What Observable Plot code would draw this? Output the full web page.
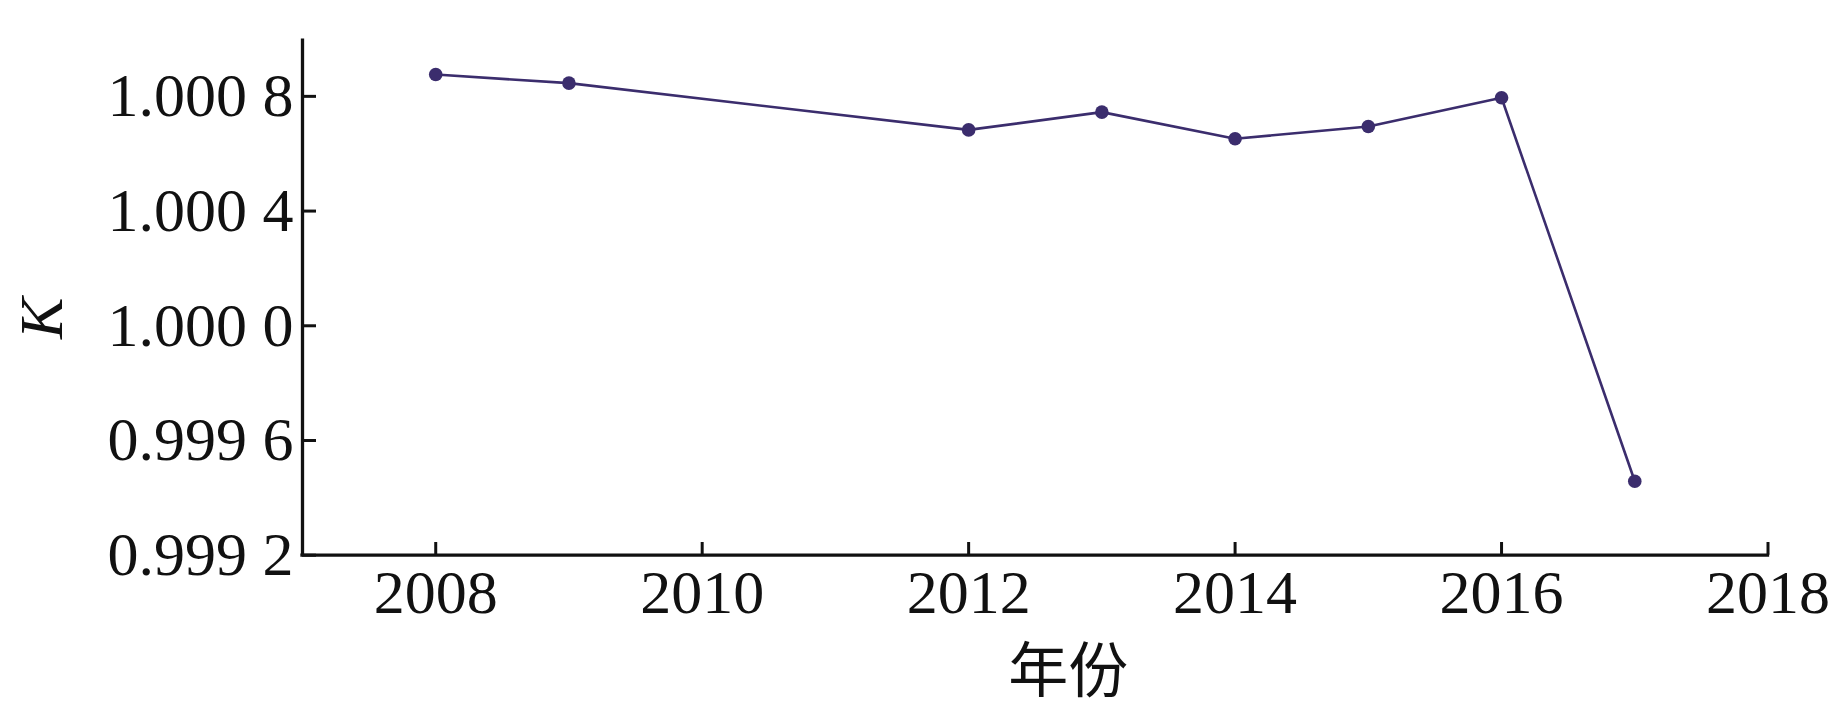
<!DOCTYPE html>
<html><head><meta charset="utf-8">
<script src="https://cdn.jsdelivr.net/npm/d3@7"></script>
<script src="https://cdn.jsdelivr.net/npm/@observablehq/plot@0.6"></script>
<style>body{margin:0;background:#fff}</style>
</head><body><div id="chart"></div>
<script>
const years = [2008, 2009, 2012, 2013, 2014, 2015, 2016, 2017];
const kValues = [1.000876, 1.000846, 1.000683, 1.000745, 1.000652, 1.000695, 1.000795, 0.999458];
const yTicks = [0.9992, 0.9996, 1.0000, 1.0004, 1.0008];
const yTickLabels = ["0.999 2", "0.999 6", "1.000 0", "1.000 4", "1.000 8"];
const xTicks = [2008, 2010, 2012, 2014, 2016, 2018];
const xLabel = "年份";
const yLabel = "K";

const data = years.map((year, i) => ({year, k: kValues[i]}));
const color = "#3b2d6d";
const ink = "#111";
const serif = "'Liberation Serif', 'Times New Roman', serif";

const chart = Plot.plot({
  width: 1843, height: 709,
  marginLeft: 302, marginRight: 75.5, marginTop: 38.5, marginBottom: 154.3,
  style: {fontFamily: serif, background: "#fff", color: ink},
  x: {domain: [2007, 2018]},
  y: {domain: [0.9992, 1.001]},
  marks: [
    Plot.ruleX([2007], {stroke: ink, strokeWidth: 3.3}),
    Plot.ruleY([0.9992], {stroke: ink, strokeWidth: 3.3, strokeLinecap: "square"}),
    Plot.axisY(yTicks, {anchor: "left", tickSize: 14, dx: 14, fill: "none", label: null, stroke: ink, strokeWidth: 3}),
    Plot.axisY(yTicks, {anchor: "left", tickSize: 0, tickPadding: 9, fontSize: 62, fill: ink, label: null,
      fontFamily: serif, tickFormat: d => yTickLabels[yTicks.indexOf(d)]}),
    Plot.axisX(xTicks, {anchor: "bottom", tickSize: 12.7, dy: -12.7, fill: "none", label: null, stroke: ink, strokeWidth: 3}),
    Plot.axisX(xTicks, {anchor: "bottom", tickSize: 0, tickPadding: 14, fontSize: 62, fill: ink, label: null,
      fontFamily: serif, tickFormat: d => String(d)}),
    Plot.line(data, {x: "year", y: "k", stroke: color, strokeWidth: 2.6}),
    Plot.dot(data, {x: "year", y: "k", r: 6.8, fill: color, stroke: null}),
    Plot.text([xLabel], {frameAnchor: "bottom", lineAnchor: "bottom", dy: 137, dx: 33, fontSize: 60,
      fontFamily: "'Noto Sans CJK SC'", fill: ink}),
    Plot.text([yLabel], {frameAnchor: "left", rotate: -90, dx: -260, dy: 42, fontSize: 62,
      fontFamily: serif, fontStyle: "italic", fill: ink})
  ]
});
document.getElementById("chart").appendChild(chart);
</script>
</body></html>
